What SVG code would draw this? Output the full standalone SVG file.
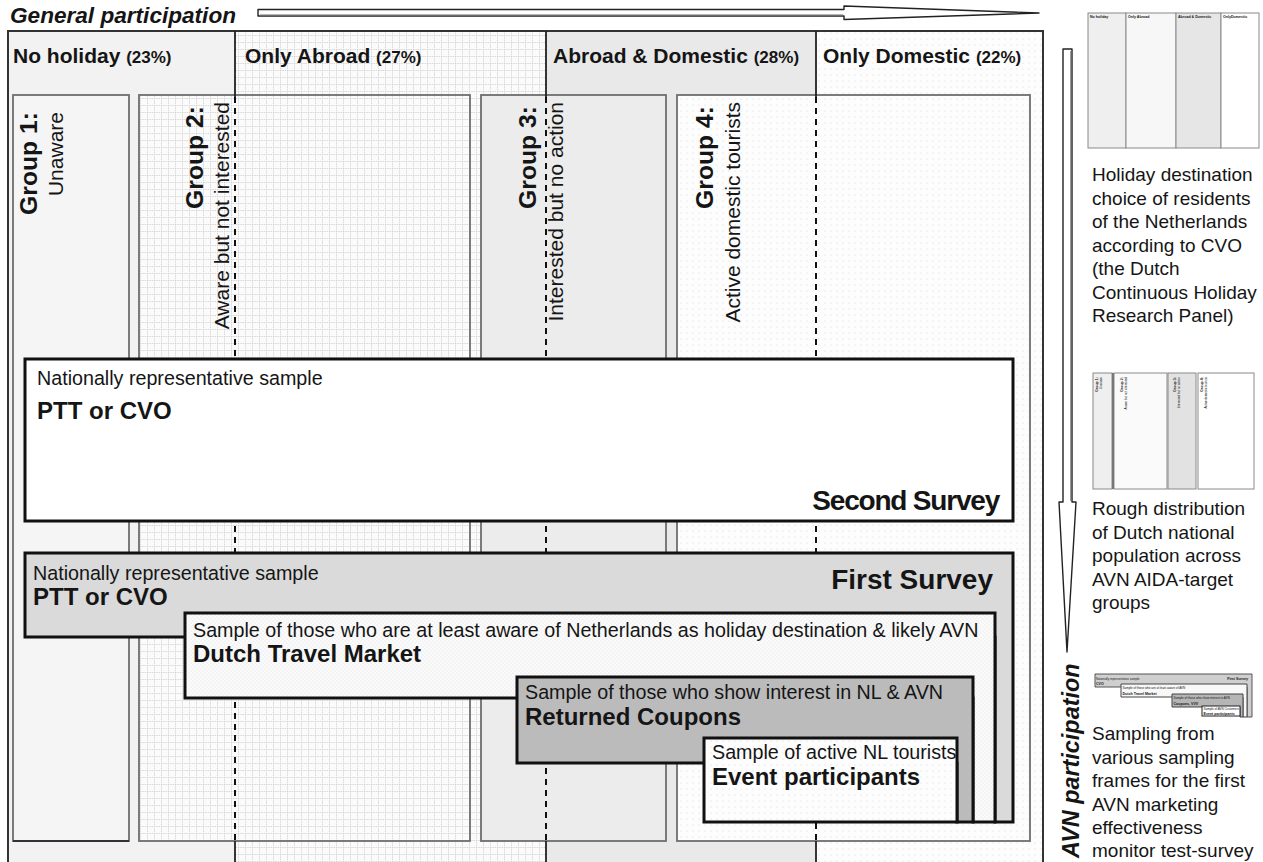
<svg xmlns="http://www.w3.org/2000/svg" width="1263" height="862" viewBox="0 0 1263 862">
<style>
text { font-family: "Liberation Sans", Arial, Helvetica, sans-serif; fill: #151515; }
.b { font-weight: bold; }
.bi { font-weight: bold; font-style: italic; }
.hdr { font-size: 21px; font-weight: bold; }
.pct { font-size: 17px; font-weight: bold; }
.gb { font-size: 24.7px; font-weight: bold; }
.gr { font-size: 21px; }
.desc { font-size: 19.7px; }
.name { font-size: 24px; font-weight: bold; }
.surv { font-size: 28px; font-weight: bold; }
.cap { font-size: 19px; }
.grp { stroke: #6e6e6e; stroke-width: 1.8; }
.box { stroke: #111; stroke-width: 3; stroke-linejoin: miter; }
.dash { stroke: #111; stroke-width: 2; stroke-dasharray: 6 5; fill: none; }
.solid { stroke: #222; stroke-width: 1.8; fill: none; }
.tiny { font-size: 3.6px; font-weight: bold; }
.tinyr { font-size: 3px; }
.thumb { stroke: #8a8a8a; stroke-width: 1; }
</style>
<defs>
<pattern id="grid" patternUnits="userSpaceOnUse" width="7" height="7">
<rect width="7" height="7" fill="#fbfbfb"/>
<path d="M0 0.5H7M0.5 0V7" stroke="#cfcfcf" stroke-width="0.8" stroke-dasharray="1.5 0.8"/>
</pattern>
<pattern id="dots" patternUnits="userSpaceOnUse" width="6" height="6">
<rect width="6" height="6" fill="#fdfdfd"/>
<circle cx="3" cy="3" r="0.6" fill="#d6d6d6"/>
</pattern>
<pattern id="fine" patternUnits="userSpaceOnUse" width="4" height="4">
<rect width="4" height="4" fill="#fbfbfb"/>
<circle cx="1" cy="1" r="0.55" fill="#dcdcdc"/>
<circle cx="3" cy="3" r="0.55" fill="#dcdcdc"/>
</pattern>
</defs>
<rect width="1263" height="862" fill="#ffffff"/>

<!-- title and horizontal arrow -->
<g id="general-participation">
<text x="10" y="23" class="bi" font-size="22.6">General participation</text>
<polygon points="258,9.5 844,9.5 844,6 1039,13 844,19.5 844,16 258,16" fill="#ffffff" stroke="#222" stroke-width="1.4" stroke-linejoin="round"/>
<line x1="260" y1="14.8" x2="843" y2="14.8" stroke="#999" stroke-width="1"/>
</g>

<!-- column backgrounds -->
<g id="columns">
<rect x="8" y="31" width="227" height="840" fill="#f2f2f2"/>
<rect x="235" y="31" width="311" height="840" fill="url(#grid)"/>
<rect x="546" y="31" width="270" height="840" fill="#e9e9e9"/>
<rect x="816" y="31" width="227" height="840" fill="url(#dots)"/>
<rect x="8" y="31" width="1035" height="840" fill="none" stroke="#333" stroke-width="2"/>
<text x="13" y="63" class="hdr">No holiday <tspan class="pct">(23%)</tspan></text>
<text x="245" y="63" class="hdr">Only Abroad <tspan class="pct">(27%)</tspan></text>
<text x="553" y="63" class="hdr">Abroad &amp; Domestic <tspan class="pct">(28%)</tspan></text>
<text x="823" y="63" class="hdr">Only Domestic <tspan class="pct">(22%)</tspan></text>
</g>

<!-- groups -->
<g id="group1">
<rect x="13" y="95" width="116" height="746" fill="#f5f5f5" class="grp"/>
<line x1="13" y1="841" x2="129" y2="841" stroke="#333" stroke-width="2"/>
<text class="gb" text-anchor="end" transform="translate(37,112) rotate(-90)">Group 1:</text>
<text class="gr" text-anchor="end" transform="translate(63,112) rotate(-90)">Unaware</text>
</g>
<g id="group2">
<rect x="139" y="95" width="331" height="746" fill="url(#grid)" class="grp"/>
</g>
<g id="group3">
<rect x="481" y="95" width="185" height="746" fill="#ececec" class="grp"/>
</g>
<g id="group4">
<rect x="677" y="95" width="353" height="746" fill="url(#dots)" class="grp"/>
</g>

<!-- column dividers -->
<g id="dividers">
<path class="solid" d="M235 31V97M546 31V97M816 31V97M235 841V862M546 841V862M816 841V862"/>
<path class="dash" d="M235 97V841M546 97V841M816 97V841"/>
</g>

<g id="group-labels">
<text class="gb" text-anchor="end" transform="translate(203,106) rotate(-90)">Group 2:</text>
<text class="gr" text-anchor="end" transform="translate(229,102) rotate(-90)">Aware but not interested</text>
<text class="gb" text-anchor="end" transform="translate(536,106) rotate(-90)">Group 3:</text>
<text class="gr" text-anchor="end" transform="translate(563,102) rotate(-90)">Interested but no action</text>
<text class="gb" text-anchor="end" transform="translate(713,106) rotate(-90)">Group 4:</text>
<text class="gr" text-anchor="end" transform="translate(740,102) rotate(-90)">Active domestic tourists</text>
</g>

<!-- survey boxes -->
<g id="second-survey">
<rect x="25" y="359" width="988" height="162" fill="#ffffff" class="box"/>
<text x="37" y="385" class="desc" font-size="20.6">Nationally representative sample</text>
<text x="37" y="419" class="name">PTT or CVO</text>
<text x="999" y="510" class="surv" text-anchor="end" font-size="27" letter-spacing="-1.2">Second Survey</text>
</g>
<g id="first-survey">
<polygon points="25,553 1013,553 1013,822 995,822 995,637 25,637" fill="#dadada" class="box"/>
<text x="33" y="580" class="desc">Nationally representative sample</text>
<text x="33" y="605" class="name">PTT or CVO</text>
<text x="993" y="589" class="surv" text-anchor="end">First Survey</text>
</g>
<g id="dutch-travel-market">
<polygon points="185,613 995,613 995,822 973,822 973,698 185,698" fill="url(#fine)" class="box"/>
<text x="193" y="637" class="desc">Sample of those who are at least aware of Netherlands as holiday destination &amp; likely AVN</text>
<text x="193" y="662" class="name">Dutch Travel Market</text>
</g>
<g id="returned-coupons">
<polygon points="517,677 973,677 973,822 957,822 957,763 517,763" fill="#bbbbbb" class="box"/>
<text x="525" y="699" class="desc">Sample of those who show interest in NL &amp; AVN</text>
<text x="525" y="725" class="name">Returned Coupons</text>
</g>
<g id="event-participants">
<rect x="704" y="738" width="253" height="84" fill="url(#dots)" class="box"/>
<text x="712" y="759" class="desc">Sample of active NL tourists</text>
<text x="712" y="785" class="name">Event participants</text>
</g>

<!-- vertical arrow -->
<g id="avn-participation">
<polygon points="1063,49 1072,49 1072,502 1076,502 1067,652 1059,502 1063,502" fill="#ffffff" stroke="#222" stroke-width="1.4" stroke-linejoin="round"/>
<line x1="1070.5" y1="51" x2="1070.5" y2="501" stroke="#999" stroke-width="1"/>
<text class="bi" font-size="23.4" transform="translate(1079,858) rotate(-90)">AVN participation</text>
</g>

<!-- thumbnail 1 -->
<g id="thumb-columns">
<rect x="1088" y="13" width="38" height="135" fill="#efefef" class="thumb"/>
<rect x="1126" y="13" width="50" height="135" fill="#f7f7f7" class="thumb"/>
<rect x="1176" y="13" width="45" height="135" fill="#e6e6e6" class="thumb"/>
<rect x="1221" y="13" width="38" height="135" fill="#ffffff" class="thumb"/>
<text x="1090" y="18" class="tiny">No holiday</text>
<text x="1128" y="18" class="tiny">Only Abroad</text>
<text x="1178" y="18" class="tiny">Abroad &amp; Domestic</text>
<text x="1223" y="18" class="tiny">OnlyDomestic</text>
<text x="1092" y="181" class="cap">Holiday destination</text>
<text x="1092" y="204.5" class="cap">choice of residents</text>
<text x="1092" y="228" class="cap">of the Netherlands</text>
<text x="1092" y="251.5" class="cap">according to CVO</text>
<text x="1092" y="275" class="cap">(the Dutch</text>
<text x="1092" y="298.5" class="cap">Continuous Holiday</text>
<text x="1092" y="322" class="cap">Research Panel)</text>
</g>

<!-- thumbnail 2 -->
<g id="thumb-groups">
<rect x="1093" y="373" width="19" height="116" fill="#efefef" class="thumb"/>
<rect x="1114" y="373" width="53" height="116" fill="#fafafa" class="thumb"/>
<rect x="1168" y="373" width="28" height="116" fill="#e2e2e2" class="thumb"/>
<rect x="1198" y="373" width="56" height="116" fill="#ffffff" class="thumb"/>
<line x1="1113" y1="373" x2="1113" y2="489" stroke="#777" stroke-width="2"/>
<text class="tiny" text-anchor="end" transform="translate(1098,377) rotate(-90)">Group 1:</text>
<text class="tinyr" text-anchor="end" transform="translate(1101.5,377) rotate(-90)">Unaware</text>
<text class="tiny" text-anchor="end" transform="translate(1123,377) rotate(-90)">Group 2:</text>
<text class="tinyr" text-anchor="end" transform="translate(1127,377) rotate(-90)">Aware but not interested</text>
<text class="tiny" text-anchor="end" transform="translate(1176,377) rotate(-90)">Group 3:</text>
<text class="tinyr" text-anchor="end" transform="translate(1180,377) rotate(-90)">Interested but no action</text>
<text class="tiny" text-anchor="end" transform="translate(1203,377) rotate(-90)">Group 4:</text>
<text class="tinyr" text-anchor="end" transform="translate(1207,377) rotate(-90)">Active domestic tourists</text>
<text x="1092" y="515" class="cap">Rough distribution</text>
<text x="1092" y="538.5" class="cap">of Dutch national</text>
<text x="1092" y="562" class="cap">population across</text>
<text x="1092" y="585.5" class="cap">AVN AIDA-target</text>
<text x="1092" y="609" class="cap">groups</text>
</g>

<!-- thumbnail 3 -->
<g id="thumb-sampling">
<polygon points="1095,674 1252,674 1252,717 1247,717 1247,687 1095,687" fill="#cfcfcf" stroke="#555" stroke-width="1"/>
<text x="1096" y="679.5" class="tinyr">Nationally representative sample</text>
<text x="1096" y="685" class="tiny">CVO</text>
<text x="1248" y="680" class="tiny" text-anchor="end" font-size="4.2">First Survey</text>
<polygon points="1121,684 1247,684 1247,717 1243,717 1243,697 1121,697" fill="#f8f8f8" stroke="#444" stroke-width="1"/>
<text x="1122.5" y="689" class="tinyr">Sample of those who are at least aware of AVN</text>
<text x="1122.5" y="694.5" class="tiny">Dutch Travel Market</text>
<polygon points="1172,694 1243,694 1243,717 1240,717 1240,707 1172,707" fill="#b5b5b5" stroke="#444" stroke-width="1"/>
<text x="1173.5" y="699" class="tinyr">Sample of those who show interest in AVN</text>
<text x="1173.5" y="704.5" class="tiny">Coupons, VVV</text>
<rect x="1202" y="706" width="38" height="10" fill="#ffffff" stroke="#222" stroke-width="1"/>
<text x="1203.5" y="710" class="tinyr">Sample of AVN Customers</text>
<text x="1203.5" y="714.5" class="tiny">Event participants</text>
<text x="1092" y="740" class="cap">Sampling from</text>
<text x="1092" y="763.5" class="cap">various sampling</text>
<text x="1092" y="787" class="cap">frames for the first</text>
<text x="1092" y="810.5" class="cap">AVN marketing</text>
<text x="1092" y="834" class="cap">effectiveness</text>
<text x="1092" y="857" class="cap">monitor test-survey</text>
</g>
</svg>
